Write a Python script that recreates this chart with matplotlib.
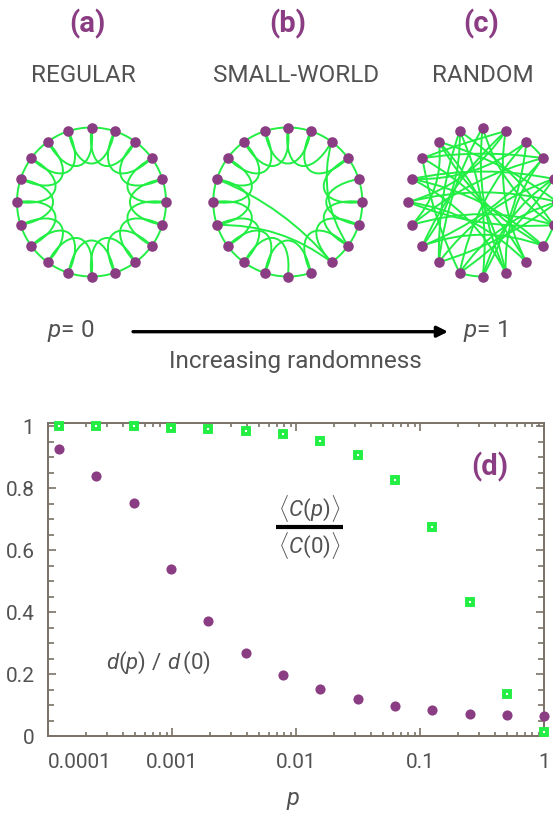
import numpy as np
import matplotlib
matplotlib.use("Agg")
import matplotlib.pyplot as plt
from matplotlib.path import Path
from matplotlib.patches import PathPatch
from matplotlib.ticker import FixedLocator, FixedFormatter, LogLocator, NullFormatter

plt.rcParams['font.family'] = ['Roboto', 'DejaVu Sans']
plt.rcParams['mathtext.fontset'] = 'custom'
plt.rcParams['mathtext.rm'] = 'Roboto'
plt.rcParams['mathtext.it'] = 'Roboto:italic'
plt.rcParams['mathtext.bf'] = 'Roboto:bold'

# ---------------- data ----------------
p_values = [0.000122, 0.000244, 0.000488, 0.000977, 0.00195, 0.00391, 0.00781,
            0.0156, 0.0313, 0.0625, 0.125, 0.25, 0.5, 1.0]
clustering = [1.0, 1.0, 1.0, 0.995, 0.992, 0.986, 0.977, 0.952, 0.909, 0.826,
              0.675, 0.433, 0.136, 0.013]
path_length = [0.928, 0.841, 0.753, 0.540, 0.373, 0.268, 0.198, 0.152, 0.120,
               0.098, 0.085, 0.072, 0.068, 0.065]
x_tick_vals = [1e-4, 1e-3, 1e-2, 1e-1, 1.0]
x_tick_labels = ['0.0001', '0.001', '0.01', '0.1', '1']
y_tick_vals = [0, 0.2, 0.4, 0.6, 0.8, 1.0]
y_tick_labels = ['0', '0.2', '0.4', '0.6', '0.8', '1']
panel_titles = ['REGULAR', 'SMALL-WORLD', 'RANDOM']
panel_letters = ['(a)', '(b)', '(c)']

n_nodes = 20
regular_edges = [(i, (i + 1) % 20) for i in range(20)] + [(i, (i + 2) % 20) for i in range(20)]
sw_removed = [(8, 9), (8, 10), (2, 4)]
sw_added = [(16, 8), (14, 8), (2, 7)]
sw_bends = [-0.10, -0.12, 0.15]
random_edges = [(0, 9), (0, 12), (1, 8), (1, 13), (1, 17), (2, 3), (2, 11), (3, 14),
                (3, 17), (3, 9), (4, 16), (4, 12), (5, 15), (5, 18), (6, 14), (6, 19),
                (6, 7), (7, 16), (7, 13), (8, 17), (8, 15), (9, 18), (10, 11), (10, 2),
                (10, 19), (11, 4), (12, 5), (13, 3), (14, 18), (15, 6), (16, 2),
                (17, 11), (18, 7), (19, 12), (0, 6), (9, 16), (13, 19), (4, 10),
                (5, 11), (15, 1)]

PURPLE = '#8a3d82'
GREEN = '#22ee44'
SPINE = '#7a7266'
TXT = '#525252'

W, H = 553, 815
fig = plt.figure(figsize=(W / 100, H / 100), dpi=100)

# ---------------- chart (d) ----------------
ax = fig.add_axes([48.3 / W, 1 - 736 / H, (544.3 - 48.3) / W, (736 - 423) / H], zorder=1)
ax.set_xscale('log')
ax.set_xlim(1e-4, 1)
ax.set_ylim(0, 1.011)
ax.plot(p_values, path_length, 'o', color=PURPLE, ms=7.3, mec='none', clip_on=False, zorder=3)
ax.plot(p_values, clustering, 's', mfc='white', mec=GREEN, mew=2.8, ms=4.9, clip_on=False, zorder=4)

for s in ax.spines.values():
    s.set_color(SPINE)
    s.set_linewidth(1.4)
ax.xaxis.set_major_locator(FixedLocator(x_tick_vals))
ax.xaxis.set_major_formatter(FixedFormatter(x_tick_labels))
ax.xaxis.set_minor_locator(LogLocator(base=10, subs=range(2, 10)))
ax.xaxis.set_minor_formatter(NullFormatter())
ax.yaxis.set_major_locator(FixedLocator(y_tick_vals))
ax.yaxis.set_major_formatter(FixedFormatter(y_tick_labels))
ax.yaxis.set_minor_locator(FixedLocator(list(np.arange(0, 1.01, 0.05))))
ax.tick_params(which='both', direction='in', top=True, right=True, color=SPINE, width=1.2)
ax.tick_params(which='major', length=6)
ax.tick_params(which='minor', axis='x', length=3)
ax.tick_params(which='minor', axis='y', length=4.5)
ax.tick_params(axis='x', pad=12, labelsize=15, labelcolor=TXT)
ax.tick_params(axis='y', pad=10, labelsize=15, labelcolor=TXT)
ax.get_xticklabels()[0].set_horizontalalignment('left')

# ---------------- overlay in pixel coordinates ----------------
ov = fig.add_axes([0, 0, 1, 1], zorder=5)
ov.set_xlim(0, W)
ov.set_ylim(H, 0)
ov.axis('off')
ov.patch.set_alpha(0)

R = 74.5
centers = [(91.5, 202.0), (287.8, 202.0), (482.7, 202.0)]


def node_xy(c, i, r=R):
    a = np.deg2rad(90 - 18 * i)
    return np.array([c[0] + r * np.cos(a), c[1] - r * np.sin(a)])


def polar_pt(c, ang_deg, r):
    a = np.deg2rad(ang_deg)
    return np.array([c[0] + r * np.cos(a), c[1] - r * np.sin(a)])


def draw_curve(pts, codes):
    ov.add_patch(PathPatch(Path(pts, codes), fc='none', ec=GREEN, lw=1.4, zorder=2))


def ring_edge(c, i, j):
    d = (j - i) % 20
    if d == 19:
        i, j = j, i
        d = 1
    ai = 90 - 18 * i
    aj = 90 - 18 * j
    if d == 1:
        angs = np.linspace(ai, ai - 18, 20)
        pts = [polar_pt(c, a, R) for a in angs]
        ov.plot([q[0] for q in pts], [q[1] for q in pts], color=GREEN, lw=1.4, zorder=2)
    else:
        p0 = node_xy(c, i)
        p3 = node_xy(c, j)
        p1 = polar_pt(c, ai + 10, 0.42 * R)
        p2 = polar_pt(c, aj - 10, 0.42 * R)
        draw_curve([p0, p1, p2, p3], [Path.MOVETO, Path.CURVE4, Path.CURVE4, Path.CURVE4])


def long_edge(c, i, j, bend=0.12):
    p0 = node_xy(c, i)
    p2 = node_xy(c, j)
    mid = (p0 + p2) / 2
    d = p2 - p0
    perp = np.array([-d[1], d[0]])
    ctrl = mid + bend * perp + 0.15 * (np.array(c) - mid)
    draw_curve([p0, ctrl, p2], [Path.MOVETO, Path.CURVE3, Path.CURVE3])


def draw_nodes(c):
    pts = np.array([node_xy(c, i) for i in range(n_nodes)])
    ov.scatter(pts[:, 0], pts[:, 1], s=58, color=PURPLE, zorder=3, linewidths=0)


# (a) regular
for (i, j) in regular_edges:
    ring_edge(centers[0], i, j)
draw_nodes(centers[0])

# (b) small world
rem = set(tuple(sorted(e)) for e in sw_removed)
for (i, j) in regular_edges:
    if tuple(sorted((i, j))) in rem:
        continue
    ring_edge(centers[1], i, j)
for (i, j), b in zip(sw_added, sw_bends):
    long_edge(centers[1], i, j, bend=b)
draw_nodes(centers[1])

# (c) random
for (i, j) in random_edges:
    if (j - i) % 20 in (1, 19):
        ring_edge(centers[2], i, j)
    else:
        long_edge(centers[2], i, j, bend=0.13)
draw_nodes(centers[2])

# titles
letter_x = [87.5, 288, 481]
title_x = [83, 296.5, 483]
for k in range(3):
    ov.text(letter_x[k], 32, panel_letters[k], ha='center', va='baseline',
            fontsize=21, fontweight='bold', color=PURPLE)
    ov.text(title_x[k], 82, panel_titles[k], ha='center', va='baseline',
            fontsize=17.5, color=TXT)

# arrow
ov.annotate('', xy=(448, 331.7), xytext=(133, 331.7),
            arrowprops=dict(arrowstyle='-|>', lw=2.4, color='black',
                            mutation_scale=16, shrinkA=0, shrinkB=0))
ov.text(47, 336.7, r'$p$= 0', ha='left', va='baseline', fontsize=17.5, color=TXT)
ov.text(463, 336.7, r'$p$= 1', ha='left', va='baseline', fontsize=17.5, color=TXT)
ov.text(295.5, 368.3, 'Increasing randomness', ha='center', va='baseline',
        fontsize=17.5, color=TXT)

# chart annotations
ov.text(490, 475, '(d)', ha='center', va='baseline', fontsize=21,
        fontweight='bold', color=PURPLE)
ov.text(309, 517, r'$\langle C(p)\rangle$', ha='center', va='baseline', fontsize=16, color=TXT)
ov.plot([276, 342.7], [526.7, 526.7], color='black', lw=3, solid_capstyle='butt')
ov.text(309, 554, r'$\langle C(0)\rangle$', ha='center', va='baseline', fontsize=16, color=TXT)
ov.text(106, 669, r'$d(p)\ /\ d\,(0)$', ha='left', va='baseline', fontsize=16, color=TXT)
ov.text(293, 805, r'$p$', ha='center', va='baseline', fontsize=17, color=TXT)

fig.savefig('out.png', dpi=100)
